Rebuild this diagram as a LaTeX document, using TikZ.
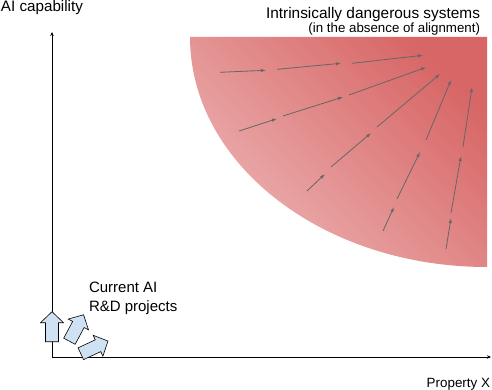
\documentclass[tikz,border=0pt]{standalone}
\usepackage{fontspec}
\setmainfont{Liberation Sans}
\usetikzlibrary{arrows.meta}
\definecolor{redlight}{HTML}{EDB3B3}
\definecolor{reddark}{HTML}{D86666}
\definecolor{arrowgray}{HTML}{666666}
\definecolor{blockblue}{HTML}{CFE2F3}
\tikzset{
  axisline/.style={line width=0.8pt, -{Stealth[length=4pt,width=3.5pt]}},
  flow/.style={arrowgray, line width=0.8pt, -{Latex[length=5pt,width=3.4pt]}},
  blockarrow/.style={fill=blockblue, draw=black, line width=0.6pt, line join=miter},
  lbl/.style={inner sep=0pt, outer sep=0pt},
}
\begin{document}
\begin{tikzpicture}[x=1pt,y=-1pt]
\useasboundingbox (0,0) rectangle (492,390);
% dangerous region
\shade[top color=reddark, bottom color=redlight, shading angle=-45]
  (487,37) -- (190,37) arc[start angle=180, end angle=90, x radius=297, y radius=230] -- cycle;
% flow arrows
\draw[flow] (220,72.3) -- (266,70.3);
\draw[flow] (277,69.3) -- (341,63.3);
\draw[flow] (352,63.3) -- (423,55.3);
\draw[flow] (239,131) -- (277,118.7);
\draw[flow] (283,116) -- (343,97);
\draw[flow] (349,95) -- (426,67.3);
\draw[flow] (307,191) -- (325,174);
\draw[flow] (331,167) -- (371,133);
\draw[flow] (377,127) -- (440,74);
\draw[flow] (383,231) -- (394,207);
\draw[flow] (397,199) -- (420,152);
\draw[flow] (426,140) -- (451,80);
\draw[flow] (446,249) -- (451,218);
\draw[flow] (451,213) -- (461,156);
\draw[flow] (463,147) -- (472,87);
% axes
\coordinate (O) at (52,357);
\coordinate (Ytop) at (52,32);
\coordinate (Xend) at (491,357);
\draw[axisline] (O) -- (Ytop);
\draw[axisline] (O) -- (Xend);
% block arrows
\begin{scope}[shift={(52,326.7)}, rotate=90]
  \path[blockarrow] (-15,-6.5) -- (4,-6.5) -- (4,-11.5) -- (15,0) -- (4,11.5) -- (4,6.5) -- (-15,6.5) -- cycle;
\end{scope}
\begin{scope}[shift={(76.5,328)}, rotate=62]
  \path[blockarrow] (-15,-6.5) -- (4,-6.5) -- (4,-11.5) -- (15,0) -- (4,11.5) -- (4,6.5) -- (-15,6.5) -- cycle;
\end{scope}
\begin{scope}[shift={(94.4,347.4)}, rotate=25]
  \path[blockarrow] (-15,-6.5) -- (4,-6.5) -- (4,-11.5) -- (15,0) -- (4,11.5) -- (4,6.5) -- (-15,6.5) -- cycle;
\end{scope}
% labels
\node[lbl, anchor=base west, font=\fontsize{15.2}{18}\selectfont] (ylabel) at (1,11.7) {AI capability};
\node[lbl, anchor=base east, font=\fontsize{15.4}{18}\selectfont] (title) at (480,19) {Intrinsically dangerous systems};
\node[lbl, anchor=base east, font=\fontsize{13.3}{16}\selectfont] (subtitle) at (480,32.5) {(in the absence of alignment)};
\node[lbl, anchor=base west, font=\fontsize{15}{18}\selectfont] (cur1) at (89,292.3) {Current AI};
\node[lbl, anchor=base west, font=\fontsize{15}{18}\selectfont] (cur2) at (89,311.5) {R\&D projects};
\node[lbl, anchor=base east, font=\fontsize{13.4}{16}\selectfont] (xlabel) at (490,387) {Property X};
\end{tikzpicture}
\end{document}
